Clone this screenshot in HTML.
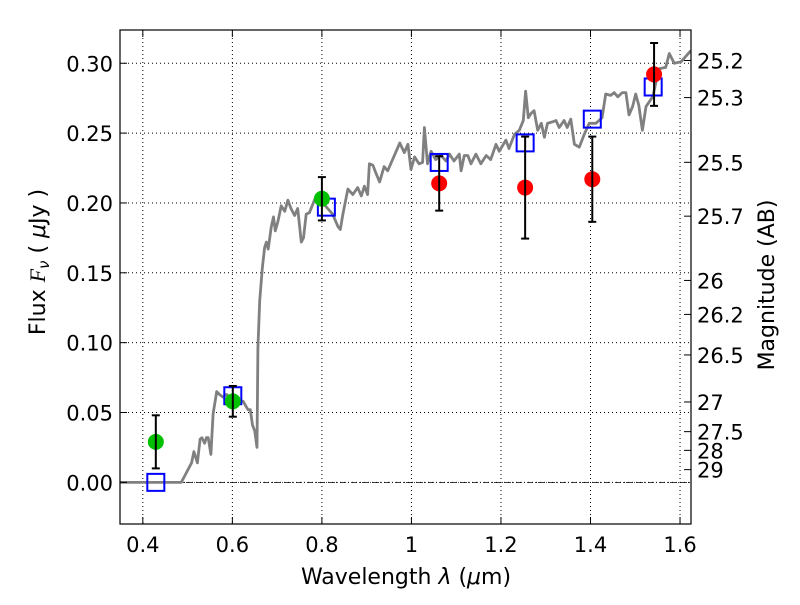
<!DOCTYPE html>
<html><head><meta charset="utf-8"><style>
html,body{margin:0;padding:0;background:#fff;}
svg text{font-family:"DejaVu Sans","Liberation Sans",sans-serif;}
</style></head><body>
<svg id="chart" width="800" height="600" xmlns="http://www.w3.org/2000/svg"></svg>
<script>
const xTicks=[0.4,0.6,0.8,1,1.2,1.4,1.6];
const xTickLabels=["0.4","0.6","0.8","1","1.2","1.4","1.6"];
const yTicks=[0,0.05,0.1,0.15,0.2,0.25,0.3];
const yTickLabels=["0.00","0.05","0.10","0.15","0.20","0.25","0.30"];
const magTicks=[25.2,25.3,25.5,25.7,26,26.2,26.5,27,27.5,28,29];
const magTickLabels=["25.2","25.3","25.5","25.7","26","26.2","26.5","27","27.5","28","29"];
const specWave=[0.30,0.486,0.509,0.514,0.522,0.528,0.532,0.538,0.542,0.546,0.552,0.557,0.565,0.571,0.579,0.587,0.602,0.624,0.635,0.640,0.645,0.650,0.655,0.657,0.661,0.667,0.672,0.676,0.680,0.687,0.692,0.696,0.702,0.709,0.717,0.724,0.731,0.739,0.746,0.754,0.759,0.765,0.772,0.787,0.802,0.824,0.836,0.841,0.847,0.858,0.869,0.880,0.888,0.895,0.902,0.906,0.914,0.921,0.929,0.939,0.947,0.974,0.984,0.992,0.999,1.007,1.017,1.025,1.029,1.036,1.044,1.054,1.066,1.077,1.085,1.095,1.107,1.111,1.118,1.126,1.133,1.144,1.155,1.167,1.177,1.189,1.196,1.211,1.218,1.230,1.241,1.250,1.255,1.261,1.267,1.274,1.282,1.290,1.297,1.304,1.315,1.323,1.330,1.341,1.348,1.356,1.364,1.375,1.386,1.397,1.412,1.426,1.434,1.445,1.453,1.461,1.471,1.479,1.486,1.494,1.501,1.508,1.516,1.524,1.539,1.553,1.568,1.576,1.587,1.602,1.624];
const specFlux=[0,0,0.014,0.022,0.014,0.031,0.032,0.028,0.032,0.032,0.020,0.049,0.065,0.063,0.061,0.063,0.058,0.058,0.052,0.052,0.041,0.037,0.025,0.096,0.130,0.154,0.168,0.172,0.167,0.183,0.190,0.180,0.187,0.198,0.194,0.202,0.196,0.191,0.196,0.172,0.175,0.192,0.193,0.205,0.200,0.192,0.183,0.181,0.192,0.210,0.206,0.211,0.205,0.212,0.206,0.228,0.227,0.221,0.215,0.226,0.223,0.243,0.236,0.242,0.224,0.233,0.228,0.229,0.254,0.228,0.237,0.231,0.234,0.230,0.235,0.230,0.235,0.223,0.234,0.234,0.228,0.235,0.228,0.234,0.231,0.242,0.237,0.245,0.239,0.249,0.252,0.259,0.280,0.261,0.264,0.266,0.252,0.257,0.247,0.257,0.258,0.259,0.254,0.259,0.254,0.260,0.242,0.240,0.249,0.257,0.257,0.261,0.278,0.277,0.279,0.276,0.279,0.279,0.263,0.269,0.278,0.270,0.252,0.269,0.276,0.296,0.297,0.307,0.300,0.301,0.309];
const modelWave=[0.429,0.601,0.81,1.062,1.254,1.404,1.540];
const modelFlux=[0.0,0.062,0.197,0.229,0.243,0.260,0.283];
const greenWave=[0.429,0.601,0.80];
const greenFlux=[0.029,0.058,0.203];
const greenErr=[0.019,0.011,0.0155];
const redWave=[1.062,1.254,1.404,1.542];
const redFlux=[0.214,0.211,0.217,0.292];
const redErr=[0.0195,0.0365,0.0305,0.0225];

const L=120,R=691,T=30,B=524;
const xMin=0.349,xMax=1.6245,yMin=-0.0298,yMax=0.3238;
const X=v=>L+(v-xMin)/(xMax-xMin)*(R-L);
const Y=v=>B-(v-yMin)/(yMax-yMin)*(B-T);
const NS="http://www.w3.org/2000/svg";
const svg=document.getElementById('chart');
function mk(tag,attrs,parent){const e=document.createElementNS(NS,tag);for(const k in attrs)e.setAttribute(k,attrs[k]);(parent||svg).appendChild(e);return e;}

const defs=mk('defs',{});const cp=mk('clipPath',{id:'clip'},defs);mk('rect',{x:L,y:T,width:R-L,height:B-T},cp);

const grid=mk('g',{});


xTicks.forEach(t=>{mk('line',{x1:X(t),x2:X(t),y1:T,y2:B,stroke:'#000','stroke-width':1,'stroke-dasharray':'1,3'},grid);});
yTicks.forEach(t=>{mk('line',{x1:L,x2:R,y1:Y(t),y2:Y(t),stroke:'#000','stroke-width':1,'stroke-dasharray':'1,3'},grid);});

const zl=mk('line',{x1:L,x2:R,y1:Y(0),y2:Y(0),stroke:'#000','stroke-width':0.8,'stroke-dasharray':'6,2,1,2'});



const pts=specWave.map((w,i)=>X(w).toFixed(1)+','+Y(specFlux[i]).toFixed(1)).join(' ');
const sp=mk('polyline',{points:pts,fill:'none',stroke:'#808080','stroke-width':2.8,'stroke-linejoin':'round','clip-path':'url(#clip)'});



modelWave.forEach((w,i)=>{
  const s=mk('rect',{x:X(w)-8.5,y:Y(modelFlux[i])-8.5,width:17,height:17,fill:'none',stroke:'#0000ff','stroke-width':2});
  
  
});
function errPts(ws,fs,es,color,name){
  ws.forEach((w,i)=>{
    const g=mk('g',{});
    
    
    const x=X(w),y1=Y(fs[i]+es[i]),y2=Y(fs[i]-es[i]);
    mk('circle',{cx:x,cy:Y(fs[i]),r:8,fill:color},g);
    mk('line',{x1:x,x2:x,y1:y1,y2:y2,stroke:'#000','stroke-width':2},g);
    mk('line',{x1:x-4,x2:x+4,y1:y1,y2:y1,stroke:'#000','stroke-width':2},g);
    mk('line',{x1:x-4,x2:x+4,y1:y2,y2:y2,stroke:'#000','stroke-width':2},g);
  });
}
errPts(greenWave,greenFlux,greenErr,'#00c000','observed-point-green');
errPts(redWave,redFlux,redErr,'#ff0000','observed-point-red');

const fr=mk('rect',{x:L,y:T,width:R-L,height:B-T,fill:'none',stroke:'#000','stroke-width':1.2});



xTicks.forEach((t,i)=>{
  mk('line',{x1:X(t),x2:X(t),y1:B,y2:B-7,stroke:'#000'});
  mk('line',{x1:X(t),x2:X(t),y1:T,y2:T+7,stroke:'#000'});
  const tx=mk('text',{x:X(t),y:B+28,'font-size':21,'text-anchor':'middle'});
  tx.textContent=xTickLabels[i];
  
  
});
yTicks.forEach((t,i)=>{
  mk('line',{x1:L,x2:L+7,y1:Y(t),y2:Y(t),stroke:'#000'});
  const tx=mk('text',{x:L-7,y:Y(t)+8,'font-size':21,'text-anchor':'end'});
  tx.textContent=yTickLabels[i];
  
  
});
magTicks.forEach((m,i)=>{
  const f=Math.pow(10,(23.9-m)/2.5);
  const y=Y(f);
  mk('line',{x1:R,x2:R-7,y1:y,y2:y,stroke:'#000'});
  const tx=mk('text',{x:R+6,y:y+8,'font-size':21,'text-anchor':'start'});
  tx.textContent=magTickLabels[i];
  
  
});

const xt=mk('text',{x:406,y:584,'font-size':22,'text-anchor':'middle'});
xt.innerHTML='Wavelength  <tspan font-style="italic">λ</tspan> (<tspan font-style="italic">μ</tspan>m)';


const yt=mk('text',{x:0,y:0,'font-size':22,'text-anchor':'middle',transform:'translate(45,262) rotate(-90)'});
yt.innerHTML='Flux  <tspan font-style="italic" font-family="Liberation Serif, serif">F</tspan><tspan font-style="italic" font-size="15" dy="4">ν</tspan><tspan dy="-4">  (  </tspan><tspan font-style="italic">μ</tspan>Jy )';


const rt=mk('text',{x:0,y:0,'font-size':22,'text-anchor':'middle',transform:'translate(774,285) rotate(-90)'});
rt.textContent='Magnitude (AB)';


</script>
</body></html>
